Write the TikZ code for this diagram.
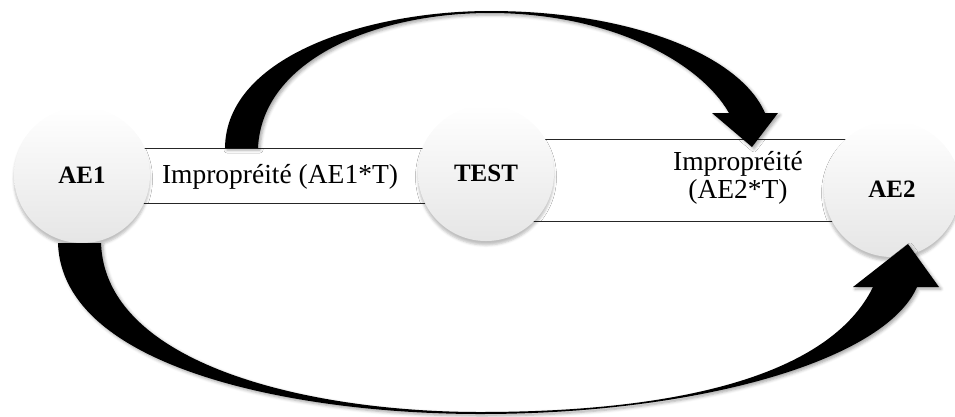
\documentclass[tikz,border=0pt]{standalone}
\usepackage{fontspec}
\setmainfont{Liberation Serif}
\usetikzlibrary{shadows.blur}

\tikzset{
  ball/.style={circle, minimum size=136pt, inner sep=0pt,
    top color=white, middle color=white, bottom color=black!10,
    blur shadow={shadow xshift=0pt, shadow yshift=-4pt, shadow blur radius=2.5pt, shadow opacity=25},
    font=\fontsize{25}{25}\selectfont\bfseries},
  band/.style={rectangle, draw=black!85, line width=1pt, fill=white, inner sep=0pt},
  bandtext/.style={align=center, inner sep=0pt, font=\fontsize{27.5}{28}\selectfont},
  bigarrow/.style={fill=black,
    blur shadow={shadow xshift=2pt, shadow yshift=-2pt, shadow blur radius=3pt, shadow opacity=35}}
}

\begin{document}
\begin{tikzpicture}[x=1pt, y=-1pt]
\useasboundingbox (0,0) rectangle (955,416);

% bands between the circles
\node[band, minimum width=370pt, minimum height=55pt] (band1) at (285,175.5) {};
\node[band, minimum width=380pt, minimum height=82pt] (band2) at (700,180) {};
\node[bandtext] (txt1) at (280,177) {Impropréité (AE1*T)};
\node[bandtext] (txt2) at (738,178) {Impropréité\\(AE2*T)};

% circles
\node[ball] (AE1) at (82,175) {AE1};
\node[ball] (TEST) at (486,173) {TEST};
\node[ball] (AE2) at (892,189) {AE2};

% curved arrows
\fill[bigarrow] (225,148) .. controls (226,55) and (370,11) .. (490,11)
  .. controls (630,11) and (740,55) .. (765,113) -- (778,113) -- (752,147)
  -- (712,113) -- (729,113)
  .. controls (700,62) and (610,13) .. (490,13)
  .. controls (375,13) and (262,60) .. (258,148) -- cycle;
\fill[bigarrow] (58,243) .. controls (62,370) and (300,414) .. (480,414)
  .. controls (700,414) and (885,360) .. (917,287) -- (939,287) -- (908,244)
  -- (853,287) -- (873,287)
  .. controls (830,375) and (680,412) .. (480,412)
  .. controls (310,412) and (105,365) .. (101,243) -- cycle;
\end{tikzpicture}
\end{document}
